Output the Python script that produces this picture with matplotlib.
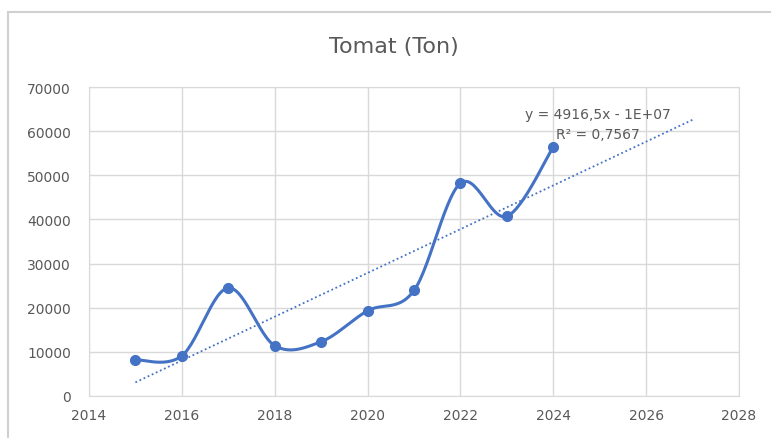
import matplotlib.pyplot as plt
import numpy as np
from matplotlib.patches import Rectangle

# data
years = [2015, 2016, 2017, 2018, 2019, 2020, 2021, 2022, 2023, 2024]
ton = [8200, 9100, 24500, 11400, 12300, 19300, 23900, 48200, 40700, 56400]
x_ticks = [2014, 2016, 2018, 2020, 2022, 2024, 2026, 2028]
y_ticks = [0, 10000, 20000, 30000, 40000, 50000, 60000, 70000]
trend_range = [2015, 2027]

blue = '#4472C4'
grey = '#595959'


# excel-like smoothed line (cardinal spline through the points)
def smooth(xs, ys, n=30):
    p = np.column_stack([xs, ys]).astype(float)
    out = []
    for i in range(len(p) - 1):
        p0 = p[i - 1] if i > 0 else p[i]
        p1 = p[i]
        p2 = p[i + 1]
        p3 = p[i + 2] if i + 2 < len(p) else p[i + 1]
        c1 = p1 + (p2 - p0) / 6
        c2 = p2 - (p3 - p1) / 6
        t = np.linspace(0, 1, n)[:, None]
        seg = (1 - t) ** 3 * p1 + 3 * (1 - t) ** 2 * t * c1 + 3 * (1 - t) * t ** 2 * c2 + t ** 3 * p2
        out.append(seg)
    pts = np.vstack(out)
    return pts[:, 0], pts[:, 1]


plt.rcParams['font.family'] = ['DejaVu Sans']

fig = plt.figure(figsize=(7.71, 4.39), dpi=100)
# outer chart frame (runs off the right/bottom edge)
fig.patches.append(Rectangle((8 / 771, -0.05), 1.05, 1 - 13 / 439 + 0.05, transform=fig.transFigure,
                             fill=False, edgecolor='#d0d0d0', lw=1.5))
ax = fig.add_axes([0.1154, 0.0957, 0.8431, 0.7038])

sx, sy = smooth(years, ton)
ax.plot(sx, sy, color=blue, lw=2.2, zorder=3)
ax.plot(years, ton, 'o', color=blue, ms=7, zorder=4)

# linear trendline
k, b = np.polyfit(years, ton, 1)
tx = np.array(trend_range)
ax.plot(tx, k * tx + b, color=blue, lw=1.3, ls=(0, (1, 1.5)), zorder=2)

ax.text(2024.95, 63800, 'y = 4916,5x - 1E+07', ha='center', va='center', fontsize=10, color=grey)
ax.text(2024.95, 59300, 'R² = 0,7567', ha='center', va='center', fontsize=10, color=grey)

ax.set_xlim(2014, 2028)
ax.set_ylim(0, 70000)
ax.set_xticks(x_ticks)
ax.set_yticks(y_ticks)
ax.grid(True, color='#d9d9d9', lw=1)
ax.set_axisbelow(True)
for s in ax.spines.values():
    s.set_color('#d9d9d9')
ax.tick_params(length=0, labelsize=10, colors=grey)
ax.tick_params(axis='x', pad=9)
ax.tick_params(axis='y', pad=13)

fig.text(394 / 771, 1 - 47 / 439, 'Tomat (Ton)', ha='center', va='center', fontsize=16, color=grey)

plt.savefig('out.png', dpi=100)
